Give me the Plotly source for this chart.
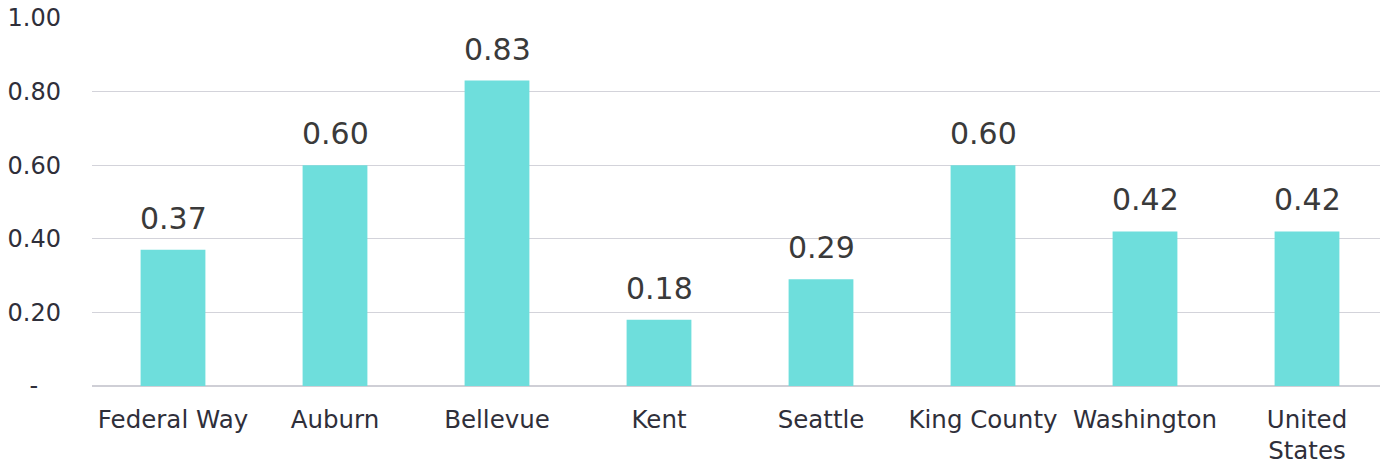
import plotly.graph_objects as go

categories = ["Federal Way", "Auburn", "Bellevue", "Kent", "Seattle", "King County", "Washington", "United<br>States"]
values = [0.37, 0.60, 0.83, 0.18, 0.29, 0.60, 0.42, 0.42]
tick_vals = [0, 0.2, 0.4, 0.6, 0.8, 1.0]
tick_text = ["-\u00a0\u00a0\u00a0", "0.20", "0.40", "0.60", "0.80", "1.00"]

FONT = "DejaVu Sans"
TXT = "#2f2f3a"

fig = go.Figure(go.Bar(
    x=categories, y=values, marker=dict(color="#6EDEDC", line=dict(width=0)),
    width=0.4,
))

for c, v in zip(categories, values):
    fig.add_annotation(x=c, y=v, text=f"{v:.2f}", showarrow=False, yanchor="bottom",
                       yshift=12, font=dict(family=FONT, size=30, color="#3a3a3a"))

fig.update_layout(
    width=1380, height=458,
    margin=dict(l=84, r=0, t=10, b=80, autoexpand=False),
    plot_bgcolor="white", paper_bgcolor="white",
    showlegend=False,
    font=dict(family=FONT, size=24, color=TXT),
    bargap=0.6,
)
fig.update_xaxes(showline=False, tickfont=dict(size=24.5, color=TXT), ticks="", ticklabelstandoff=16,
                 automargin=False)
fig.update_yaxes(range=[0, 1.0], tickvals=tick_vals, ticktext=tick_text, showgrid=True,
                 gridcolor="#d3d3da", gridwidth=1.3, zeroline=True, zerolinecolor="#cfcfd6", zerolinewidth=2,
                 tickfont=dict(size=24, color=TXT), ticklabelstandoff=30, automargin=False,
                 ticklabeloverflow="allow")

fig.write_html("out.html")
